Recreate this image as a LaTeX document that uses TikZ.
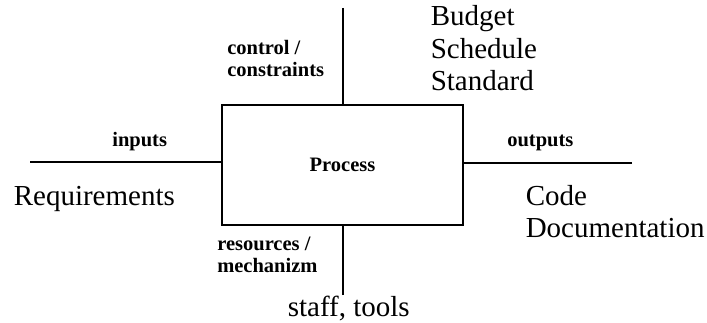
\documentclass[tikz,border=0pt]{standalone}
\usepackage{fontspec}
\setmainfont{Liberation Serif}

\begin{document}
\begin{tikzpicture}
[x=1pt,y=-1pt,line width=1.6pt,
 every node/.style={inner sep=0pt,anchor=base west,align=left},
 small/.style={font=\bfseries\fontsize{20.5}{22}\selectfont},
 big/.style={font=\fontsize{29}{32.5}\selectfont}]
\useasboundingbox (0,0) rectangle (707,323);
\node[small,draw,anchor=center,minimum width=241pt,minimum height=120pt] (proc) at (342.5,165) {Process};
\coordinate (ctrl) at (343,8);
\coordinate (mech) at (343,295);
\coordinate (inp) at (30,162);
\coordinate (outp) at (632,163);
\foreach \a/\b in {ctrl/proc.north,mech/proc.south}
\draw (\a) -- (\a |- \b);
\foreach \a/\b in {inp/proc.west,outp/proc.east}
\draw (\a) -- (\a -| \b);
% multi-line texts sit on the baseline of their last line
\node[small] (ctrl-l) at (226.5,76.7) {control /\\constraints};
\node[small] (mech-l) at (216.5,272.7) {resources /\\mechanizm};
\node[small] (inp-l) at (111.5,146.7) {inputs};
\node[small] (outp-l) at (506.5,146.7) {outputs};
\node[big] (req) at (13,206) {Requirements};
\node[big] (bss) at (430,91) {Budget\\Schedule\\Standard};
\node[big] (doc) at (525,238) {Code\\Documentation};
\node[big] (staff) at (287,316.7) {staff, tools};
\end{tikzpicture}
\end{document}
